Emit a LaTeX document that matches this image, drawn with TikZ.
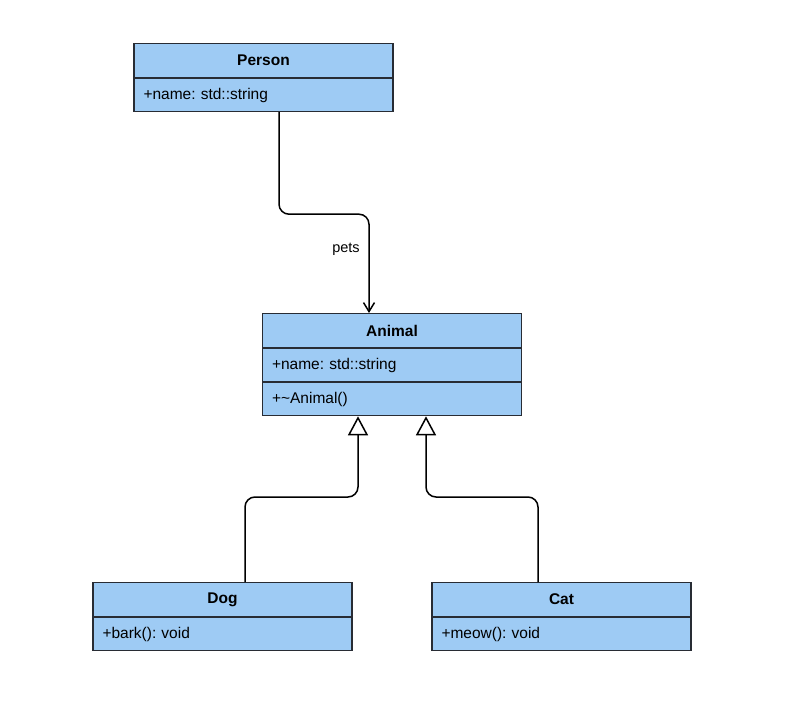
\documentclass[tikz,border=0pt]{standalone}
\usepackage{fontspec}
\setmainfont{Liberation Sans}
\usetikzlibrary{arrows.meta,calc}
\frenchspacing
\definecolor{boxfill}{RGB}{158,203,244}
\definecolor{boxline}{RGB}{40,44,52}
\tikzset{
  px/.style={x=1pt,y=-1pt},
  comp/.style={draw=boxline, fill=boxfill, line width=1.1pt, rectangle, minimum width=259pt, inner sep=0pt, font=\fontsize{15.5}{18}\selectfont},
  head/.style={comp, minimum height=34pt, font=\fontsize{15.5}{18}\selectfont\bfseries, anchor=north},
  attr/.style={comp, minimum height=33pt, text width=240pt, align=left, anchor=north},
  conn/.style={draw=black, line width=1.5pt, rounded corners=10pt},
  assoc/.style={conn, -{Straight Barb[length=9pt,width=11pt,line width=1.5pt]}},
  inherit/.style={conn, -{Triangle[open,length=19pt,width=20pt,fill=white,line width=1.5pt]}},
  lbl/.style={font=\fontsize{14.5}{17}\selectfont}
}
\begin{document}
\begin{tikzpicture}[px]
\useasboundingbox (0,0) rectangle (812,706);
% Person
\node[head] (ph) at (263.5,43) {Person};
\node[attr] (pa) at (ph.south) {+name: std::string};
% Animal
\node[head] (ah) at (392,313) {Animal};
\node[attr] (aa) at (ah.south) {+name: std::string};
\node[attr] (am) at (aa.south) {+\textasciitilde Animal()};
% Dog
\node[head] (dh) at (222.5,582) {Dog};
\node[attr] (da) at (dh.south) {+bark(): void};
% Cat
\node[head] (ch) at (561.5,582) {Cat};
\node[attr] (ca) at (ch.south) {+meow(): void};
% connectors
\coordinate (pstart) at ([xshift=15.5pt]pa.south);
\coordinate (aend) at ([xshift=-23pt]ah.north);
\draw[assoc] (pstart) -- ++(0,102) -| (aend);
\node[lbl] (pets) at (346,249) {pets};
\coordinate (dstart) at ([xshift=22.5pt]dh.north);
\coordinate (dend) at ([xshift=-34pt]am.south);
\draw[inherit] (dstart) -- ++(0,-85) -| (dend);
\coordinate (cstart) at ([xshift=-23.5pt]ch.north);
\coordinate (cend) at ([xshift=34pt]am.south);
\draw[inherit] (cstart) -- ++(0,-85) -| (cend);
\end{tikzpicture}
\end{document}
